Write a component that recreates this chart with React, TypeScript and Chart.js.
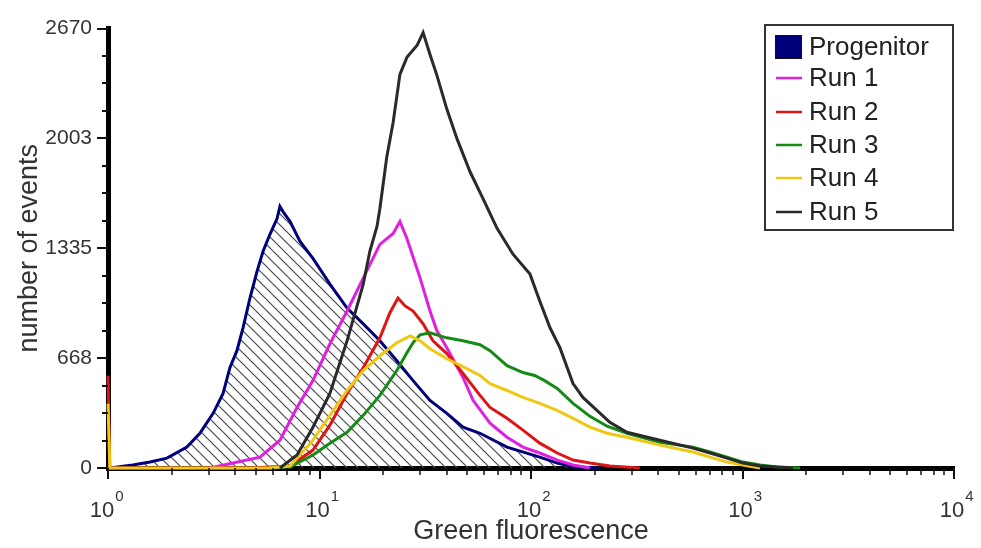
import React, { useEffect, useRef } from 'react';
import { Chart, registerables } from 'chart.js';

Chart.register(...registerables);

const FONT = '"Liberation Sans", Arial, Helvetica, sans-serif';

const seriesLabels = ['Progenitor', 'Run 1', 'Run 2', 'Run 3', 'Run 4', 'Run 5'];
const seriesColors = ['#00007a', '#e020e0', '#dd1515', '#168a16', '#f0c814', '#2a2a2a'];

const yTickValues = [0, 668, 1335, 2003, 2670];
const xDecades = [1, 10, 100, 1000, 10000];
const xExponents = ['0', '1', '2', '3', '4'];

const progenitorX = [1.02, 1.31, 1.58, 1.9, 2.36, 2.72, 3.14, 3.5, 3.77, 4.07, 4.35, 4.69, 5.07, 5.41, 5.83, 6.3, 6.5, 6.72, 7.26, 8.09, 9.31, 11.2, 13.5, 16.1, 19.3, 23.2, 27.7, 33.3, 40.0, 47.7, 57.4, 77.0, 110, 133, 161, 212];
const progenitorY = [0, 18, 36, 60, 127, 211, 332, 453, 610, 713, 852, 1033, 1196, 1317, 1420, 1516, 1589, 1558, 1498, 1377, 1274, 1117, 972, 876, 773, 652, 531, 411, 332, 248, 211, 127, 66, 30, 6, 0];

const run1X = [3.03, 3.9, 5.23, 6.5, 7.83, 9.31, 11.2, 13.5, 16.1, 19.3, 22.3, 24.0, 25.9, 29.9, 33.3, 35.9, 40.0, 47.7, 53.2, 64.0, 77.0, 91.6, 110, 133, 158, 190];
const run1Y = [0, 30, 66, 169, 368, 531, 755, 954, 1154, 1359, 1425, 1498, 1395, 1154, 954, 834, 731, 550, 411, 272, 187, 127, 91, 48, 18, 0];

const run2X = [1, 1.02, 4.69, 7.26, 9.31, 11.2, 13.5, 16.1, 19.3, 21.5, 23.5, 25.4, 27.7, 30.9, 34.4, 40.0, 47.7, 57.4, 64.0, 77.0, 91.6, 110, 133, 158, 190, 236, 327];
const run2Y = [560, 0, 0, 12, 109, 260, 453, 610, 791, 942, 1033, 985, 954, 876, 773, 695, 574, 441, 368, 302, 230, 151, 91, 48, 30, 12, 0];

const run3X = [5.83, 7.26, 9.31, 11.2, 13.5, 16.1, 19.3, 23.2, 25.9, 27.7, 29.9, 33.3, 37.1, 40.0, 47.7, 57.4, 64.0, 77.0, 91.6, 104, 116, 133, 158, 190, 229, 284, 407, 583, 702, 845, 1005, 1210, 1456, 1872];
const run3Y = [0, 6, 79, 151, 217, 320, 441, 592, 700, 761, 809, 821, 803, 791, 773, 749, 713, 622, 580, 562, 531, 483, 393, 314, 254, 211, 157, 127, 97, 66, 36, 18, 6, 0];

const run4X = [1, 1.02, 5.83, 7.26, 9.31, 11.2, 13.5, 16.1, 19.3, 23.2, 26.8, 29.9, 33.3, 40.0, 47.7, 57.4, 64.0, 77.0, 91.6, 110, 133, 158, 190, 229, 284, 407, 583, 702, 845, 1005, 1210];
const run4Y = [390, 0, 0, 12, 169, 320, 471, 592, 682, 761, 803, 773, 725, 664, 616, 562, 513, 471, 429, 393, 350, 302, 248, 211, 187, 139, 97, 66, 36, 18, 0];

const run5X = [6.5, 7.83, 9.31, 11.2, 13.5, 16.1, 17.3, 18.7, 19.3, 20.8, 22.3, 24.0, 25.9, 28.9, 30.9, 33.3, 35.9, 40.0, 44.7, 51.5, 59.3, 69.1, 82.2, 98.9, 110, 123, 137, 158, 176, 205, 236, 284, 407, 583, 702, 845, 1005, 1210, 1734];
const run5Y = [0, 79, 248, 453, 773, 1117, 1317, 1468, 1577, 1890, 2101, 2392, 2495, 2567, 2646, 2513, 2386, 2181, 2000, 1800, 1637, 1456, 1299, 1178, 1015, 852, 731, 513, 429, 350, 278, 217, 169, 121, 91, 60, 30, 12, 0];

const seriesX = [progenitorX, run1X, run2X, run3X, run4X, run5X];
const seriesY = [progenitorY, run1Y, run2Y, run3Y, run4Y, run5Y];

const decorPlugin = {
  id: 'decor',
  afterDraw(chart: any) {
    const ctx = chart.ctx as CanvasRenderingContext2D;
    const xs = chart.scales.x;
    const ys = chart.scales.y;
    const { left, bottom } = chart.chartArea;
    ctx.save();
    ctx.strokeStyle = '#111';
    ctx.lineWidth = 2;
    for (let i = 0; i < yTickValues.length; i++) {
      const py = Math.round(ys.getPixelForValue(yTickValues[i]));
      ctx.beginPath();
      ctx.moveTo(left - 11, py);
      ctx.lineTo(left, py);
      ctx.stroke();
      if (i < yTickValues.length - 1) {
        const a = yTickValues[i];
        const b = yTickValues[i + 1];
        for (let k = 1; k < 4; k++) {
          const v = a + ((b - a) * k) / 4;
          const p = Math.round(ys.getPixelForValue(v));
          ctx.beginPath();
          ctx.moveTo(left - 6, p);
          ctx.lineTo(left, p);
          ctx.stroke();
        }
      }
    }
    for (let d = 0; d < xDecades.length; d++) {
      const px = Math.round(xs.getPixelForValue(xDecades[d]));
      ctx.lineWidth = 2;
      ctx.beginPath();
      ctx.moveTo(px, bottom);
      ctx.lineTo(px, bottom + 11);
      ctx.stroke();
      if (d < xDecades.length - 1) {
        ctx.lineWidth = 1.5;
        for (let m = 2; m <= 9; m++) {
          const p = Math.round(xs.getPixelForValue(xDecades[d] * m));
          ctx.beginPath();
          ctx.moveTo(p, bottom);
          ctx.lineTo(p, bottom + 7);
          ctx.stroke();
        }
      }
    }
    ctx.fillStyle = '#333';
    ctx.textBaseline = 'alphabetic';
    for (let d = 0; d < xDecades.length; d++) {
      const px = xs.getPixelForValue(xDecades[d]);
      ctx.font = `22px ${FONT}`;
      const w = ctx.measureText('10').width;
      const cx = px - (d === 0 ? 6 : 2);
      ctx.textAlign = 'center';
      ctx.fillText('10', cx, 517);
      ctx.font = `15px ${FONT}`;
      ctx.textAlign = 'left';
      ctx.fillText(xExponents[d], cx + w / 2 + 1, 501);
    }
    const lx = 765, ly = 25, lw = 188, lh = 205;
    ctx.fillStyle = '#ffffff';
    ctx.fillRect(lx, ly, lw, lh);
    ctx.strokeStyle = '#333';
    ctx.lineWidth = 2;
    ctx.strokeRect(lx, ly, lw, lh);
    const rowY = [47, 78, 112, 145, 178, 212];
    ctx.font = `26px ${FONT}`;
    ctx.textBaseline = 'middle';
    ctx.textAlign = 'left';
    for (let i = 0; i < seriesLabels.length; i++) {
      const y = rowY[i];
      if (i === 0) {
        ctx.fillStyle = seriesColors[0];
        ctx.fillRect(775, y - 12, 27, 24);
        ctx.strokeStyle = '#111';
        ctx.lineWidth = 1;
        ctx.strokeRect(775.5, y - 11.5, 26, 23);
      } else {
        ctx.strokeStyle = seriesColors[i];
        ctx.lineWidth = 2.5;
        ctx.beginPath();
        ctx.moveTo(776, y);
        ctx.lineTo(802, y);
        ctx.stroke();
      }
      ctx.fillStyle = '#222';
      ctx.fillText(seriesLabels[i], 809, y + 1);
    }
    ctx.restore();
  },
};

export default function App() {
  const ref = useRef<HTMLCanvasElement>(null);
  useEffect(() => {
    document.body.style.margin = '0';
    const canvas = ref.current!;
    const pc = document.createElement('canvas');
    pc.width = 11;
    pc.height = 11;
    const pctx = pc.getContext('2d')!;
    pctx.strokeStyle = '#4a4a4a';
    pctx.lineWidth = 1.2;
    const segs = [[-2, -2, 13, 13], [-2, 9, 2, 13], [9, -2, 13, 2]];
    for (const s of segs) {
      pctx.beginPath();
      pctx.moveTo(s[0], s[1]);
      pctx.lineTo(s[2], s[3]);
      pctx.stroke();
    }
    const pattern = canvas.getContext('2d')!.createPattern(pc, 'repeat');

    const datasets = seriesLabels.map((label, i) => ({
      label,
      data: seriesX[i].map((x, j) => ({ x, y: seriesY[i][j] })),
      borderColor: seriesColors[i],
      backgroundColor: i === 0 ? pattern : seriesColors[i],
      fill: i === 0 ? 'origin' : false,
      borderWidth: 3,
      pointRadius: 0,
      tension: 0,
      clip: false as any,
      order: i === 0 ? 10 : 6 - i,
    }));

    const chart = new Chart(canvas, {
      type: 'line',
      data: { datasets: datasets as any },
      options: {
        animation: false,
        responsive: false,
        devicePixelRatio: 1,
        events: [],
        layout: { padding: { left: 0, right: 27, top: 26, bottom: 0 } },
        plugins: { legend: { display: false }, tooltip: { enabled: false } },
        scales: {
          x: {
            type: 'logarithmic',
            min: 1,
            max: 10000,
            grid: { display: false, drawTicks: false },
            border: { display: true, color: '#000', width: 5 },
            ticks: { display: false },
            afterFit: (s: any) => {
              s.height = 80;
            },
            title: {
              display: true,
              text: 'Green fluorescence',
              color: '#333',
              font: { family: FONT, size: 27 },
              padding: { top: 0, bottom: 0 },
            },
          },
          y: {
            type: 'linear',
            min: 0,
            max: 2670,
            afterBuildTicks: (s: any) => {
              s.ticks = yTickValues.map((v) => ({ value: v }));
            },
            grid: { display: false, drawTicks: false },
            border: { display: true, color: '#000', width: 5 },
            ticks: {
              color: '#333',
              padding: 16,
              font: { family: FONT, size: 21 },
              callback: (v: any) => String(v),
            },
            afterFit: (s: any) => {
              s.width = 108;
            },
            title: {
              display: true,
              text: 'number of events',
              color: '#333',
              font: { family: FONT, size: 27 },
              padding: { top: 13, bottom: 0 },
            },
          },
        },
      },
      plugins: [decorPlugin],
    });
    return () => chart.destroy();
  }, []);
  return (
    <div style={{ width: 981, height: 548, position: 'relative', background: '#fff' }}>
      <canvas ref={ref} width={981} height={548} />
    </div>
  );
}
